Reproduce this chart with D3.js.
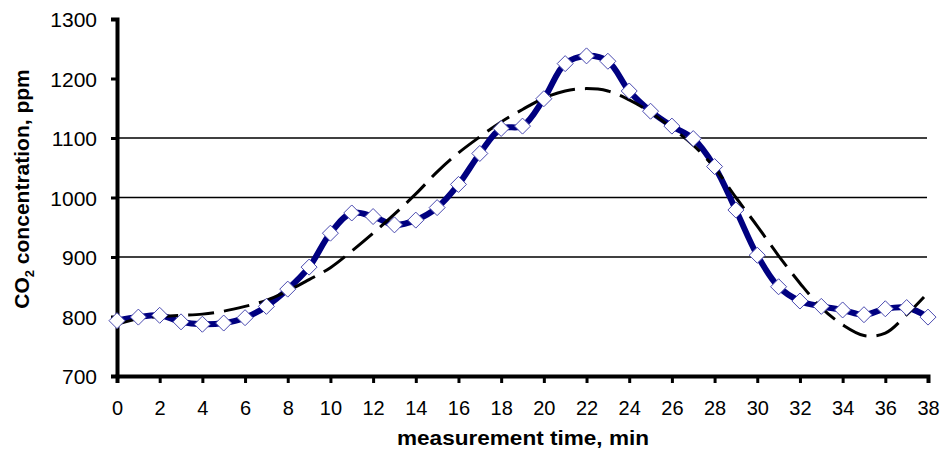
<!DOCTYPE html>
<html>
<head>
<meta charset="utf-8">
<script src="https://cdn.jsdelivr.net/npm/d3@7"></script>
<style>
  body { margin: 0; background: #fff; }
  text { font-family: Arial, "Liberation Sans", sans-serif; }
</style>
</head>
<body>
<svg id="chart" width="940" height="455"></svg>
<script>
// measured CO2 series (one reading per minute)
var minutes = d3.range(0, 39);
var measured = [793, 799, 802, 791, 787, 789, 798, 817, 846, 883,
                940, 974, 968, 954, 962, 983, 1022, 1074, 1116, 1120,
                1166, 1225, 1238, 1229, 1179, 1145, 1120, 1099, 1052, 979,
                903, 850, 826, 817, 811, 803, 813, 815, 799];
// dashed trend line
var trend = [787, 796, 800, 802, 804, 809, 817, 827, 843, 862,
             882, 910, 940, 972, 1006, 1043, 1075, 1102, 1127, 1148,
             1167, 1179, 1183, 1179, 1164, 1143, 1117, 1088, 1050, 1000,
             952, 902, 856, 815, 786, 768, 772, 803, 840];
var xTicks = d3.range(0, 39, 2);
var yTicks = [700, 800, 900, 1000, 1100, 1200, 1300];
var gridValues = [900, 1000, 1100];

var svg = d3.select("#chart");

var x = d3.scaleLinear().domain([0, 38]).range([117, 928]);
var y = d3.scaleLinear().domain([700, 1300]).range([376, 19]);

// gridlines
svg.append("g")
    .selectAll("line")
    .data(gridValues)
    .enter().append("line")
    .attr("x1", x(0))
    .attr("x2", x(38) - 1)
    .attr("y1", function (d) { return y(d); })
    .attr("y2", function (d) { return y(d); })
    .attr("stroke", "#000")
    .attr("stroke-width", 1.5);

// axes
var yAxis = svg.append("g")
    .attr("transform", "translate(" + x(0) + ",0)")
    .call(d3.axisLeft(y).tickValues(yTicks).tickFormat(d3.format("d"))
        .tickSize(6).tickPadding(14));

var xAxis = svg.append("g")
    .attr("transform", "translate(0," + y(700) + ")")
    .call(d3.axisBottom(x).tickValues(xTicks).tickFormat(d3.format("d"))
        .tickSize(7).tickPadding(18));

[yAxis, xAxis].forEach(function (ax) {
    ax.select(".domain").attr("stroke", "#000").attr("stroke-width", 4);
    ax.selectAll(".tick line").attr("stroke", "#000").attr("stroke-width", 3);
    ax.selectAll(".tick text")
        .attr("fill", "#000")
        .style("font-size", "20px");
});
yAxis.selectAll(".tick text").attr("dy", "0.36em").style("font-size", "21px");

// measured line (smoothed)
var line = d3.line()
    .x(function (d, i) { return x(minutes[i]); })
    .y(function (d) { return y(d); })
    .curve(d3.curveCatmullRom.alpha(0.5));

svg.append("path")
    .datum(measured)
    .attr("d", line)
    .attr("fill", "none")
    .attr("stroke", "#000080")
    .attr("stroke-width", 6);

// trend line
svg.append("path")
    .datum(trend)
    .attr("d", line)
    .attr("fill", "none")
    .attr("stroke", "#000")
    .attr("stroke-width", 3)
    .attr("stroke-dasharray", "26,10");

// diamond markers
var s = 8;
svg.append("g")
    .selectAll("path")
    .data(measured)
    .enter().append("path")
    .attr("d", function (d, i) {
        var cx = x(minutes[i]), cy = y(d);
        return "M" + cx + "," + (cy - s) + "L" + (cx + s) + "," + cy +
               "L" + cx + "," + (cy + s) + "L" + (cx - s) + "," + cy + "Z";
    })
    .attr("fill", "#fff")
    .attr("stroke", "#4a4ab0")
    .attr("stroke-width", 1);

// axis titles
svg.append("text")
    .attr("x", 523)
    .attr("y", 445)
    .attr("text-anchor", "middle")
    .attr("textLength", 252)
    .attr("lengthAdjust", "spacingAndGlyphs")
    .style("font-size", "20px")
    .style("font-weight", "bold")
    .text("measurement time, min");

var yt = svg.append("text")
    .attr("transform", "translate(29,189) rotate(-90)")
    .attr("text-anchor", "middle")
    .style("font-size", "21px")
    .style("font-weight", "bold");
yt.append("tspan").text("CO");
yt.append("tspan").attr("dy", 5).style("font-size", "13px").text("2");
yt.append("tspan").attr("dy", -5).text(" concentration, ppm");
</script>
</body>
</html>
